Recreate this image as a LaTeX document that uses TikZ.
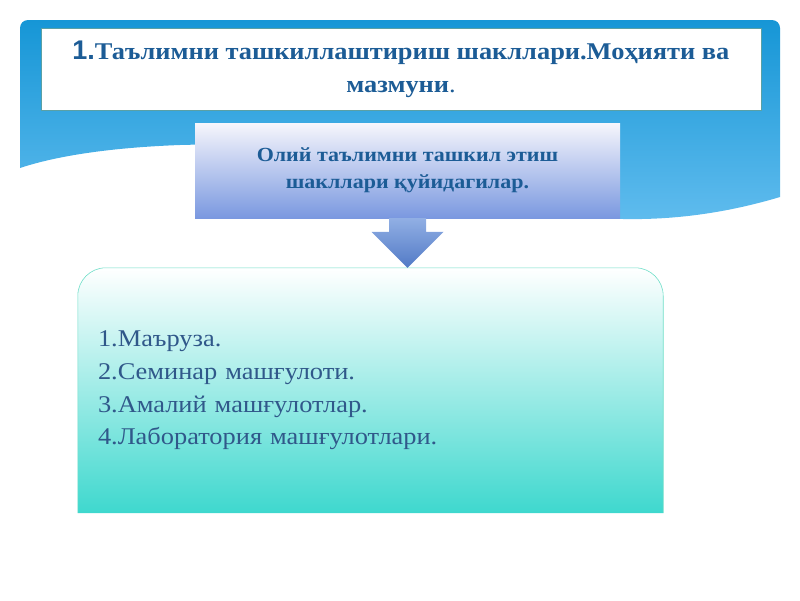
\documentclass[tikz,border=0pt]{standalone}
\usepackage{fontspec}
\setmainfont{Liberation Serif}[FakeStretch=1.1]
\newfontfamily\numfont{Liberation Sans}
\usetikzlibrary{calc}
\usetikzlibrary{positioning}
\definecolor{bannertop}{RGB}{22,150,214}
\definecolor{bannerbot}{RGB}{96,188,238}
\definecolor{titleblue}{RGB}{28,92,150}
\definecolor{listblue}{RGB}{48,88,138}
\definecolor{subtop}{RGB}{246,246,252}
\definecolor{subbot}{RGB}{122,152,224}
\definecolor{arrtop}{RGB}{145,175,228}
\definecolor{arrbot}{RGB}{82,122,198}
\definecolor{turq}{RGB}{62,216,206}
\definecolor{turqline}{RGB}{110,222,200}
\definecolor{titleline}{RGB}{90,160,165}
\tikzset{titlebox/.style = {draw=titleline, line width=0.5pt, fill=white, minimum width=720, minimum height=82, align=center, text=titleblue, font=\fontsize{24}{33}\selectfont\bfseries}}
\tikzset{subbox/.style = {top color=subtop, bottom color=subbot, minimum width=425, minimum height=95, align=center, text=titleblue, font=\fontsize{20}{27}\selectfont\bfseries}}
\tikzset{listbox/.style = {minimum width=585, minimum height=245, inner xsep=20, text width=545, align=left, text=listblue, font=\fontsize{24}{32.7}\selectfont}}

\begin{document}
\begin{tikzpicture}[x=1pt,y=1pt]
        \useasboundingbox (0,0) rectangle (800,-600);
        \shade [top color=bannertop, bottom color=bannerbot] (20,-168) [rounded corners=8] -- (20,-20) -- (780,-20) [sharp corners] -- (780,-197) .. controls (720,-215) and (660,-222) .. (600,-218) .. controls (450,-205) and (300,-140) .. (180,-145) .. controls (100,-148) and (50,-158) .. (20,-168);
        \node [titlebox] (title) at (401,-69) {{\numfont\fontsize{27}{33}\selectfont 1.}Таълимни ташкиллаштириш шакллари.Моҳияти ва\\ мазмуни{\mdseries .}};
        \node [subbox] (sub) at (407.5,-170.5) {Олий таълимни ташкил этиш\\ шакллари қуйидагилар.};
        \node [listbox] (list) at (370.5,-390.5) {};
        \shade [top color=white, bottom color=turq, middle color=turq!50] (list.south west) -- ([yshift=-28pt]list.north west) arc [start angle=180, end angle=90, radius=28pt] -- ([xshift=-28pt]list.north east) arc [start angle=90, end angle=0, radius=28pt] -- (list.south east) -- cycle;
        \draw [turqline, line width=0.6pt] (list.south west) -- ([yshift=-28pt]list.north west) arc [start angle=180, end angle=90, radius=28pt] -- ([xshift=-28pt]list.north east) arc [start angle=90, end angle=0, radius=28pt] -- (list.south east);
        \node [listbox] at (list) {1.Маъруза.\\2.Семинар машғулоти.\\3.Амалий машғулотлар.\\4.Лаборатория машғулотлари.};
        \coordinate (tip) at (sub.south |- list.north);
        \shade [top color=arrtop, bottom color=arrbot] ($(sub.south)+(-18.5,0)$) -- ($(tip)+(-18.5,36)$) -- ($(tip)+(-36,36)$) -- (tip) -- ($(tip)+(36,36)$) -- ($(tip)+(18.5,36)$) -- ($(sub.south)+(18.5,0)$) -- cycle;
    \end{tikzpicture}
\end{document}
